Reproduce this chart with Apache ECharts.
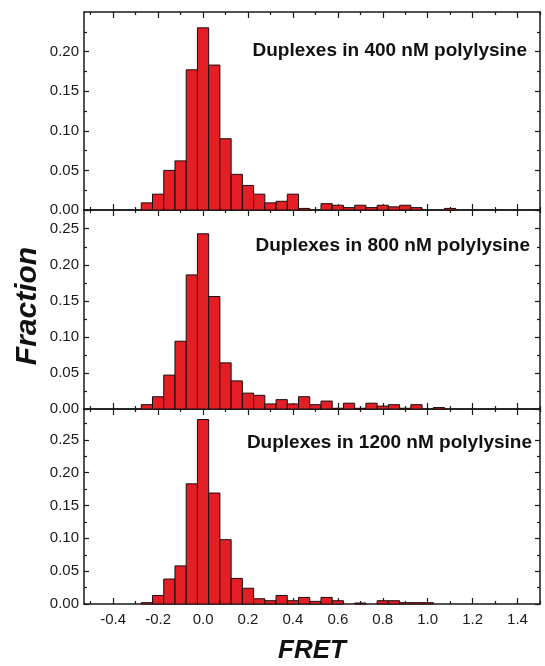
<!DOCTYPE html>
<html><head><meta charset="utf-8">
<script src="https://cdn.jsdelivr.net/npm/echarts@6/dist/echarts.min.js"></script>
<style>html,body{margin:0;padding:0;background:#fff}#c{width:545px;height:666px}</style>
</head><body><div id="c"></div>
<script>
// ---- data ----
const binCenters = [-0.25,-0.20,-0.15,-0.10,-0.05,0.00,0.05,0.10,0.15,0.20,0.25,0.30,0.35,0.40,0.45,0.50,0.55,0.60,0.65,0.70,0.75,0.80,0.85,0.90,0.95,1.00,1.05,1.10];
const binWidth = 0.05;
const fraction400  = [0.009,0.020,0.050,0.062,0.177,0.230,0.183,0.090,0.045,0.031,0.020,0.009,0.011,0.020,0.002,0,0.008,0.006,0.003,0.006,0.003,0.006,0.004,0.006,0.003,0,0,0.002];
const fraction800  = [0.006,0.017,0.047,0.094,0.186,0.243,0.156,0.064,0.039,0.022,0.019,0.007,0.013,0.007,0.017,0.006,0.011,0.001,0.008,0.001,0.008,0.004,0.006,0.001,0.006,0,0.002,0];
const fraction1200 = [0.002,0.013,0.038,0.058,0.183,0.281,0.169,0.098,0.039,0.024,0.008,0.005,0.013,0.005,0.010,0.004,0.010,0.005,0,0.0015,0,0.005,0.005,0.002,0.002,0.002,0,0];
const panelLabels = ['Duplexes in 400 nM polylysine','Duplexes in 800 nM polylysine','Duplexes in 1200 nM polylysine'];
const xTickLabels = [-0.4,-0.2,0.0,0.2,0.4,0.6,0.8,1.0,1.2,1.4];
const xMinorTicks = [-0.5,-0.3,-0.1,0.1,0.3,0.5,0.7,0.9,1.1,1.3,1.5];
const yTickLabels = [
  [0,0.05,0.10,0.15,0.20],
  [0,0.05,0.10,0.15,0.20,0.25],
  [0,0.05,0.10,0.15,0.20,0.25]
];
const yMinorTicks = [0.025,0.075,0.125,0.175,0.225,0.275];
const yMax = [0.25,0.276,0.297];
const xMin = -0.53, xMax = 1.5;
const xTitle = 'FRET', yTitle = 'Fraction';

// ---- chart ----
const series3 = [fraction400, fraction800, fraction1200];
const grids = [
  {left:84, width:456, top:12, height:198},
  {left:84, width:456, top:210, height:199},
  {left:84, width:456, top:409, height:195}
];
const AX = '#1a1a1a';
const FONT = 'Liberation Sans, Arial, sans-serif';
const xAxes = [], yAxes = [];
function xa(g, pos, ticks, len, line, labels){
  xAxes.push({type:'value', gridIndex:g, position:pos, min:xMin, max:xMax,
    axisLine:{show:line, onZero:false, lineStyle:{color:AX, width:1.5}},
    axisTick:{show:true, inside:true, length:len, customValues:ticks, lineStyle:{color:AX, width:1.2}},
    axisLabel: labels ? {show:true, customValues:labels, formatter:v=>Number(v).toFixed(1), fontSize:15, color:'#1a1a1a', margin:8, fontFamily:FONT} : {show:false},
    splitLine:{show:false}});
}
function ya(g, pos, ticks, len, line, labels){
  yAxes.push({type:'value', gridIndex:g, position:pos, min:0, max:yMax[g],
    axisLine:{show:line, onZero:false, lineStyle:{color:AX, width:1.5}},
    axisTick:{show:true, inside:true, length:len, customValues:ticks, lineStyle:{color:AX, width:1.2}},
    axisLabel: labels ? {show:true, customValues:labels, formatter:v=>Number(v).toFixed(2), fontSize:15, color:'#1a1a1a', margin:5, fontFamily:FONT} : {show:false},
    splitLine:{show:false}});
}
const seriesList = [];
for (let g=0; g<3; g++){
  xa(g,'bottom',xTickLabels,6,true, g===2 ? xTickLabels : null);
  xa(g,'bottom',xMinorTicks,3,false,null);
  xa(g,'top',xTickLabels,6,true,null);
  xa(g,'top',xMinorTicks,3,false,null);
  const minors = yMinorTicks.filter(v=>v<yMax[g]);
  const majors = yTickLabels[g];
  ya(g,'left',majors,5,true,yTickLabels[g]);
  ya(g,'left',minors,3,false,null);
  ya(g,'right',majors,5,true,null);
  ya(g,'right',minors,3,false,null);
  seriesList.push({
    type:'custom', xAxisIndex:4*g, yAxisIndex:4*g,
    data: binCenters.map((c,i)=>[c, series3[g][i]]),
    encode:{x:0,y:1},
    renderItem:function(params, api){
      const x = api.value(0), y = api.value(1);
      if (!y) return null;
      const p0 = api.coord([x-binWidth/2, 0]);
      const p1 = api.coord([x+binWidth/2, y]);
      return {type:'rect', shape:{x:p0[0], y:p1[1], width:p1[0]-p0[0], height:p0[1]-p1[1]},
        style:{fill:'#e31e24', stroke:'#1a0d0d', lineWidth:1}};
    }
  });
}
const labelPos = [[527,51],[530,246],[532,443]];
const graphics = panelLabels.map((t,i)=>({type:'text', x:labelPos[i][0], y:labelPos[i][1], z:10,
  style:{text:t, font:'bold 19px '+FONT, fill:'#111', textAlign:'right', textVerticalAlign:'middle'}}));
graphics.push({type:'text', x:312, y:651, style:{text:xTitle, font:'italic bold 26px '+FONT, fill:'#111', textAlign:'center', textVerticalAlign:'middle'}});
graphics.push({type:'text', x:28, y:306, rotation:Math.PI/2, style:{text:yTitle, font:'italic bold 30px '+FONT, fill:'#111', textAlign:'center', textVerticalAlign:'middle'}});

const chart = echarts.init(document.getElementById('c'), null, {renderer:'canvas'});
chart.setOption({
  animation:false,
  backgroundColor:'#fff',
  grid:grids,
  xAxis:xAxes,
  yAxis:yAxes,
  series:seriesList,
  graphic:graphics
});
</script></body></html>
